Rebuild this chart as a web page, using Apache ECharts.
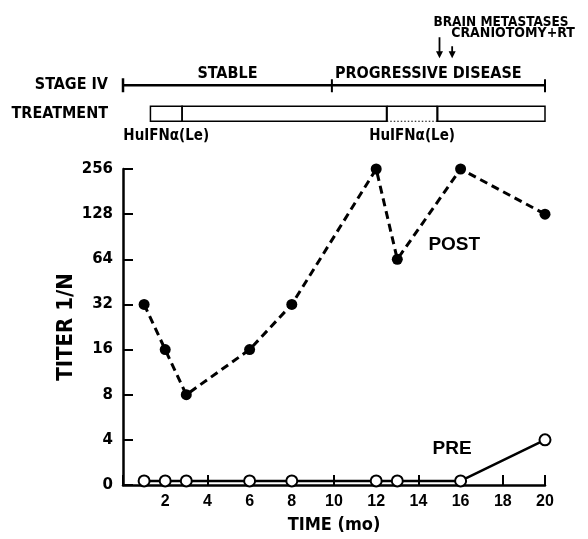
<!DOCTYPE html>
<html>
<head>
<meta charset="utf-8">
<script src="https://cdn.jsdelivr.net/npm/echarts@6/dist/echarts.min.js"></script>
<style>
html,body{margin:0;padding:0;background:#fff;}
#chart{width:588px;height:539px;}
</style>
</head>
<body>
<div id="chart"></div>
<script>
// ---- data ----
const postMonths = [1, 2, 3, 6, 8, 12, 13, 16, 20];
const postTiter  = [32, 16, 8, 16, 32, 256, 64, 256, 128];
const preMonths  = [1, 2, 3, 6, 8, 12, 13, 16, 20];
const preTiter   = [0, 0, 0, 0, 0, 0, 0, 0, 4];
const titerTickLabels = ['0', '4', '8', '16', '32', '64', '128', '256'];
const timeTickLabels = ['2', '4', '6', '8', '10', '12', '14', '16', '18', '20'];
const rowNames = ['STAGE IV', 'TREATMENT'];
const stageStart = [0, 9.9];
const stageEnd   = [9.9, 20];
const stageNames = ['STABLE', 'PROGRESSIVE DISEASE'];
const treatStart = [1.3, 2.8, 12.5, 14.9];
const treatEnd   = [2.8, 12.5, 14.9, 20];
const treatDrug  = ['HuIFNα(Le)', '', 'HuIFNα(Le)', ''];
const eventMonths = [15, 15.6];
const eventNames  = ['BRAIN METASTASES', 'CRANIOTOMY+RT'];
const seriesNames = ['POST', 'PRE'];
// undetectable titer ("0") is drawn just above the bottom of the log2 axis
const ZERO_TITER_LEVEL = 2.13;

const COND = "'DejaVu Sans Condensed','Liberation Sans Narrow','DejaVu Sans',sans-serif";
const SANS = "'DejaVu Sans',sans-serif";
const ARIAL = "'Liberation Sans',Arial,sans-serif";

const chart = echarts.init(document.getElementById('chart'), null, {renderer: 'canvas'});

const stageData = stageStart.map((s, i) => [s, stageEnd[i], rowNames[0], stageNames[i]]);
const treatData = treatStart.map((s, i) => [s, treatEnd[i], rowNames[1], treatDrug[i]]);
const eventData = eventMonths.map((m, i) => [m, rowNames[0], eventNames[i]]);

function arrowHead(x, yTip, w, h) {
  return {type: 'polygon', shape: {points: [[x - w / 2, yTip - h], [x + w / 2, yTip - h], [x, yTip]]},
          style: {fill: '#000'}};
}

function seriesTag(name, coord) {
  return {
    symbol: 'circle', symbolSize: 1, silent: true,
    itemStyle: {color: 'rgba(0,0,0,0)'},
    data: [{coord: coord, name: name}],
    label: {show: true, formatter: name, position: 'right', distance: 0, color: '#000',
      fontFamily: ARIAL, fontWeight: 'bold', fontSize: 19}
  };
}

const option = {
  backgroundColor: '#fff',
  animation: false,
  grid: [
    {left: 123, right: 43, top: 169, bottom: 47},
    {left: 123, right: 43, top: 71, height: 57}
  ],
  xAxis: [
    {
      gridIndex: 0, type: 'value', min: 0, max: 20, interval: 2,
      name: 'TIME (mo)', nameLocation: 'middle', nameGap: 31,
      nameTextStyle: {fontFamily: COND, fontWeight: 'bold', fontSize: 18, color: '#000'},
      axisLine: {show: true, lineStyle: {color: '#000', width: 2.5}},
      axisTick: {show: true, inside: true, length: 10, lineStyle: {color: '#000', width: 2}},
      axisLabel: {color: '#000', fontFamily: ARIAL, fontWeight: 'bold', fontSize: 16, margin: 9,
        formatter: v => { const i = Math.round(v / 2) - 1; return i >= 0 ? timeTickLabels[i] : ''; }},
      splitLine: {show: false}
    },
    {gridIndex: 1, type: 'value', min: 0, max: 20, show: false}
  ],
  yAxis: [
    {
      gridIndex: 0, type: 'log', logBase: 2, min: 2, max: 256, interval: 1,
      name: 'TITER 1/N', nameLocation: 'middle', nameGap: 46, nameRotate: 90,
      nameMoveOverlap: false,
      nameTextStyle: {fontFamily: COND, fontWeight: 'bold', fontSize: 22, color: '#000'},
      axisLine: {show: true, lineStyle: {color: '#000', width: 2.5}},
      axisTick: {show: true, inside: true, length: 10, lineStyle: {color: '#000', width: 2}},
      axisLabel: {color: '#000', fontFamily: SANS, fontWeight: 'bold', fontSize: 15, margin: 10,
        formatter: v => { const i = Math.round(Math.log2(v)) - 1; return titerTickLabels[i] || ''; }},
      splitLine: {show: false}
    },
    {
      gridIndex: 1, type: 'category', data: rowNames, inverse: true,
      axisLine: {show: false}, axisTick: {show: false},
      axisLabel: {color: '#000', fontFamily: COND, fontWeight: 'bold', fontSize: 16, margin: 15}
    }
  ],
  series: [
    {
      name: seriesNames[0], type: 'line', xAxisIndex: 0, yAxisIndex: 0,
      data: postMonths.map((m, i) => [m, postTiter[i]]),
      symbol: 'circle', symbolSize: 11,
      lineStyle: {color: '#000', width: 3, type: [8, 5]},
      itemStyle: {color: '#000'},
      z: 3,
      markPoint: seriesTag(seriesNames[0], [14.45, 80])
    },
    {
      name: seriesNames[1], type: 'line', xAxisIndex: 0, yAxisIndex: 0,
      data: preMonths.map((m, i) => [m, preTiter[i] === 0 ? ZERO_TITER_LEVEL : preTiter[i]]),
      symbol: 'circle', symbolSize: 11,
      lineStyle: {color: '#000', width: 2.5, type: 'solid'},
      itemStyle: {color: '#fff', borderColor: '#000', borderWidth: 2},
      z: 4,
      markPoint: seriesTag(seriesNames[1], [14.65, 3.48])
    },
    {
      name: 'stage', type: 'custom', xAxisIndex: 1, yAxisIndex: 1, clip: false,
      data: stageData,
      renderItem: (params, api) => {
        const p0 = api.coord([api.value(0), api.value(2)]);
        const p1 = api.coord([api.value(1), api.value(2)]);
        const y = p0[1];
        const children = [
          {type: 'line', shape: {x1: p0[0], y1: y, x2: p1[0], y2: y}, style: {stroke: '#000', lineWidth: 2.5}},
          {type: 'line', shape: {x1: p1[0], y1: y - 6, x2: p1[0], y2: y + 7}, style: {stroke: '#000', lineWidth: 2}}
        ];
        if (params.dataIndex === 0) {
          children.push({type: 'line', shape: {x1: p0[0], y1: y - 7, x2: p0[0], y2: y + 7}, style: {stroke: '#000', lineWidth: 2.5}});
        }
        const centred = params.dataIndex === 0;
        children.push({type: 'text', style: {
          text: stageNames[params.dataIndex],
          x: centred ? (p0[0] + p1[0]) / 2 : p0[0] + 3, y: y - 11,
          textAlign: centred ? 'center' : 'left', textVerticalAlign: 'middle',
          font: "bold 16px " + COND, fill: '#000'}});
        return {type: 'group', children};
      }
    },
    {
      name: 'treatment', type: 'custom', xAxisIndex: 1, yAxisIndex: 1, clip: false,
      data: treatData,
      renderItem: (params, api) => {
        const p0 = api.coord([api.value(0), api.value(2)]);
        const p1 = api.coord([api.value(1), api.value(2)]);
        const h = 15, top = p0[1] - h / 2, bot = p0[1] + h / 2;
        const drug = treatDrug[params.dataIndex];
        const dotted = params.dataIndex === 2;
        const children = [];
        if (dotted) {
          children.push({type: 'line', shape: {x1: p0[0], y1: top, x2: p1[0], y2: top}, style: {stroke: '#000', lineWidth: 1.5}});
          children.push({type: 'line', shape: {x1: p0[0], y1: bot, x2: p1[0], y2: bot}, style: {stroke: '#000', lineWidth: 1.2, lineDash: [1.5, 2]}});
          children.push({type: 'line', shape: {x1: p0[0], y1: top, x2: p0[0], y2: bot}, style: {stroke: '#000', lineWidth: 2}});
          children.push({type: 'line', shape: {x1: p1[0], y1: top, x2: p1[0], y2: bot}, style: {stroke: '#000', lineWidth: 2}});
        } else {
          children.push({type: 'rect', shape: {x: p0[0], y: top, width: p1[0] - p0[0], height: h},
            style: {fill: 'none', stroke: '#000', lineWidth: 1.5}});
        }
        if (drug) {
          children.push({type: 'text', style: {text: drug, x: (p0[0] + p1[0]) / 2, y: bot + 15,
            textAlign: 'center', textVerticalAlign: 'middle', font: "bold 15px " + COND, fill: '#000'}});
        }
        return {type: 'group', children};
      }
    },
    {
      name: 'events', type: 'custom', xAxisIndex: 1, yAxisIndex: 1, clip: false,
      data: eventData,
      renderItem: (params, api) => {
        const p = api.coord([api.value(0), api.value(1)]);
        const x = p[0], tip = p[1] - 27;
        const first = params.dataIndex === 0;
        const shaftTop = first ? tip - 21 : tip - 12;
        return {type: 'group', children: [
          {type: 'line', shape: {x1: x, y1: shaftTop, x2: x, y2: tip - 4}, style: {stroke: '#000', lineWidth: 1.8}},
          arrowHead(x, tip, 7, 7),
          {type: 'text', style: {text: eventNames[params.dataIndex],
            x: first ? x - 6 : x - 1, y: first ? tip - 36 : tip - 25,
            textAlign: 'left', textVerticalAlign: 'middle',
            font: "bold " + (first ? 13.5 : 14) + "px " + COND, fill: '#000'}}
        ]};
      }
    }
  ]
};
chart.setOption(option);
</script>
</body>
</html>
